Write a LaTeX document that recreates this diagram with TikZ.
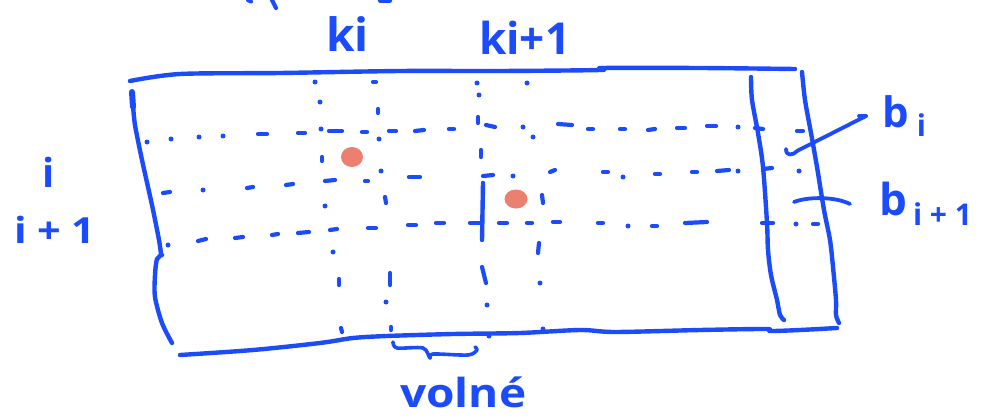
\documentclass[tikz,border=0pt]{standalone}
\usepackage{fontspec}
\setmainfont{Open Sans}
\usetikzlibrary{arrows.meta}
\definecolor{ink}{RGB}{28,76,250}
\definecolor{blot}{RGB}{236,128,112}
\tikzset{
  pen/.style={draw=ink, line width=4.4pt, line cap=round, line join=round},
  stub/.style={draw=ink, line width=4.2pt, line cap=round},
  hand/.style={text=ink, inner sep=0pt, anchor=base west},
}
\newcommand\handsize[1]{\fontsize{#1}{#1}\selectfont\bfseries}
\begin{document}
\begin{tikzpicture}[x=1pt, y=-1pt]
\useasboundingbox (0,0) rectangle (1001,420);

% strokes of a line of writing cut off at the top edge
\draw[stub] (248,0) -- (251,1.5);
\draw[stub] (272,0) -- (276,8);
\draw[stub] (380,0.5) -- (390,0.5);

% outer frame
\draw[pen] plot[smooth, tension=0.5] coordinates
  {(130,81) (180,74) (280,73) (400,71) (500,71) (600,70) (603,68) (700,68) (795,69)};
\draw[ink, line width=6pt, line cap=round] (132,92) -- (133,107);
\draw[pen] plot[smooth, tension=0.5] coordinates
  {(133,105) (135,125) (142,160) (152,205) (159,240) (161,254)};
\draw[pen] plot[smooth, tension=0.5] coordinates
  {(162,255) (157,259) (155,275) (155,297) (162,323) (172,343)};
\draw[pen] plot[smooth, tension=0.5] coordinates
  {(180,355) (253,350) (320,343) (353,338) (387,336) (453,334) (520,333)
   (580,330) (615,332) (700,330) (766,329) (770,331) (800,330) (837,328)};
\draw[pen] plot[smooth, tension=0.5] coordinates
  {(751,77) (752,100) (758,133) (763,167) (767,223) (768,250) (771,275)
   (777,300) (780,315) (784,320)};
\draw[pen] plot[smooth, tension=0.5] coordinates
  {(802,72) (805,100) (811,133) (817,167) (824,210) (830,240) (833,267)
   (836,300) (836,315) (839,323)};

% dashed grid lines: rows
\foreach \xa/\ya/\xb/\yb in {
  258/134/267/134, 298/133/305/133, 329/131/342/131, 362/132/367/132,
  389/131/396/131, 415/131/424/130, 449/129/454/129, 486/125/495/127,
  558/124/572/125, 588/129/593/129, 620/129/625/129, 648/130/655/129,
  677/128/685/128, 707/126/716/126, 755/128/763/129, 797/131/803/131,
  163/193/170/192, 247/188/253/187, 286/185/293/184, 325/181/335/180,
  365/181/368/181, 409/177/420/177, 483/176/493/175, 550/172/555/170,
  603/172/608/172, 655/174/660/174, 692/172/697/172, 717/171/729/170,
  763/169/772/168,
  198/241/206/239, 235/238/243/237, 272/235/278/234, 298/233/309/232,
  330/230/337/229, 368/228/376/228, 408/225/416/225, 436/223/444/223,
  470/223/480/223, 499/223/507/223, 527/223/532/223, 553/222/560/222,
  598/223/603/223, 652/226/657/226, 685/223/707/222, 762/223/773/223,
  813/224/818/224}
  \draw[stub] (\xa,\ya) -- (\xb,\yb);
% dashed grid lines: columns
\foreach \xa/\ya/\xb/\yb in {
  322/157/322/161, 339/279/339/285, 341/328/342/332,
  373/82/376/82, 378/109/378/113, 385/197/386/203, 390/273/390/285,
  391/327/391/330,
  478/117/478/123, 481/150/481/157, 482/267/486/283,
  542/195/543/203, 539/243/538/253}
  \draw[stub] (\xa,\ya) -- (\xb,\yb);
\draw[pen] (483,183) -- (482,240);
% single dots
\foreach \x/\y in {
  147/142, 171/139, 199/137, 223/136, 523/127, 533/137, 738/127,
  203/190, 513/176, 623/177, 738/171, 799/171,
  168/245, 628/226, 796/224,
  315/82, 320/102, 321/129, 325/206, 333/252,
  379/139, 381/171, 386/302,
  477/83, 479/95, 487/305, 489/336,
  527/83, 540/283, 543/329}
  \fill[ink] (\x,\y) circle (2.5pt);

% marked points
\fill[blot] (352,157) ellipse (11pt and 10pt);
\fill[blot] (516,199) ellipse (11.5pt and 9.5pt);

% labels
\node[hand, font=\handsize{46}] (ki) at (326,52) {ki};
\node[hand, font=\handsize{44}] (kinext) at (479,55) {ki+1};
\node[hand, font=\handsize{40}] (rowi) at (42,187) {i};
\node[hand, font=\handsize{36}, xscale=1.15] (rowinext) at (14,243) {i + 1};
\node[hand, font=\handsize{42}] (bi) at (882,127)
  {b\hspace{8pt}\raisebox{-9pt}{\handsize{30}i}};
\node[hand, font=\handsize{44}] (binext) at (879,215)
  {b\hspace{6pt}\raisebox{-10pt}{\handsize{30}i + 1}};
\node[hand, font=\handsize{40}, xscale=1.15] (free) at (400,407) {volné};

% leaders to the right-hand labels
\coordinate (hookb) at (786,149);
\coordinate (tipb) at (866,116);
\draw[pen, line width=3.8pt] (hookb) .. controls (786,156) and (792,156) .. (797,151)
  -- (tipb);
\draw[ink, line width=3.8pt, line cap=round] (tipb) -- (859,116);
\coordinate (startbn) at (794,202);
\coordinate (endbn) at (850,204);
\draw[pen, line width=3.8pt] (startbn) .. controls (806,197) and (834,196) .. (endbn);

% brace under the bottom edge
\draw[pen, line width=3.6pt] plot[smooth, tension=0.5] coordinates
  {(393,342) (397,348) (423,348) (430,358) (433,354) (468,355) (477,350) (475,347)};
\end{tikzpicture}
\end{document}
